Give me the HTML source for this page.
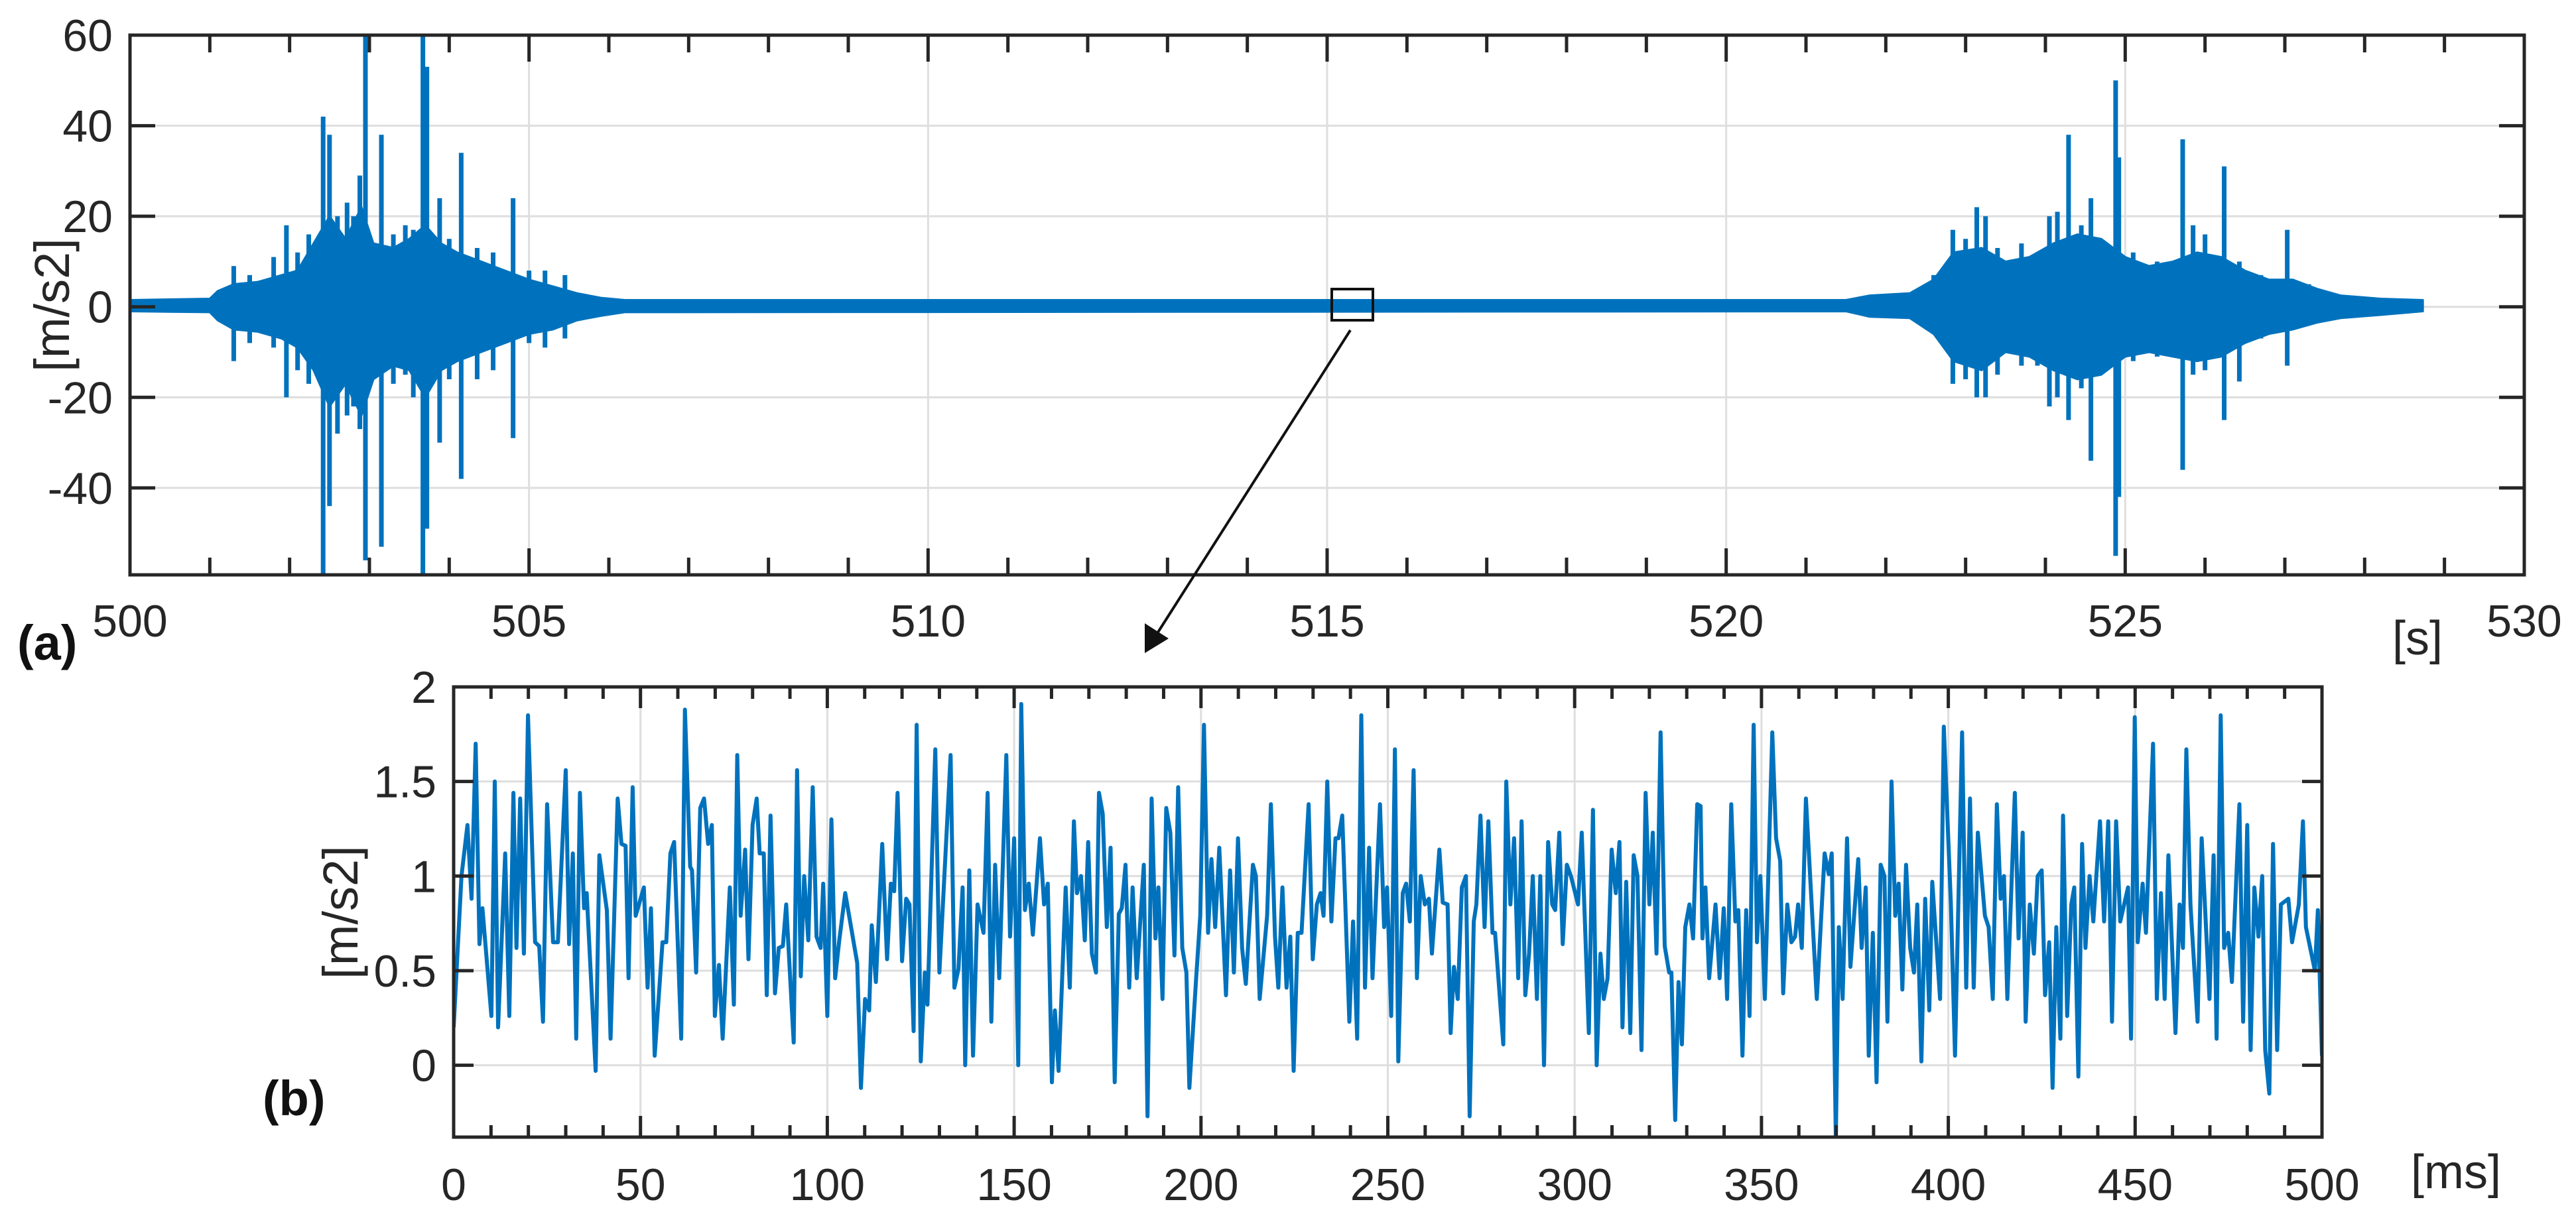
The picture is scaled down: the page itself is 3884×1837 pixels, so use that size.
<!DOCTYPE html>
<html><head><meta charset="utf-8"><style>
html,body{margin:0;padding:0;background:#fff;}
svg{display:block;font-family:"Liberation Sans",Arial,sans-serif;}
</style></head><body>
<svg id="fig" width="3884" height="1837" viewBox="0 0 3884 1837" xmlns="http://www.w3.org/2000/svg">
<rect width="3884" height="1837" fill="#fff"/>
<g id="top"></g>
<g id="bot"></g>
<rect x="2008" y="436" width="62" height="47" fill="none" stroke="#111" stroke-width="4"/>
<line x1="2036" y1="498" x2="1738" y2="966" stroke="#111" stroke-width="4"/>
<polygon points="1726,985 1726,940 1762,963" fill="#111"/>
<text x="26" y="995" font-size="74" font-weight="bold" fill="#111">(a)</text>
<text x="396" y="1682" font-size="74" font-weight="bold" fill="#111">(b)</text>
</svg>
<script>
// ---------- top chart data ----------
const topXTicks = [500, 505, 510, 515, 520, 525, 530];
const topYTicks = [-40, -20, 0, 20, 40, 60];
const envTime = [500.0,501.0,501.1,501.3,501.6,501.9,502.1,502.3,502.5,502.7,502.9,503.05,503.3,503.5,503.7,503.9,504.1,504.4,504.7,505.0,505.3,505.6,505.9,506.2,
  521.5,521.8,522.3,522.6,522.85,523.2,523.5,523.8,524.1,524.4,524.7,525.0,525.3,525.6,525.9,526.2,526.5,526.8,527.1,527.4,527.7,528.2,528.73];
const envUpper = [1.5,1.8,3.5,5,5.5,7,8,14,20,15,22,14,13,15,18,14,12,10,8,6,4.5,3,2,1.5,
  1.5,2.5,3,6,12,13,10,11,14,16,15,11,9,10,12,11,8,6,6,4,2.5,1.8,1.5];
const envLower = [-1,-1.2,-3,-5,-5.5,-7,-9,-14,-22,-17,-24,-16,-13,-14,-20,-14,-12,-10,-8,-6,-5,-3,-2,-1.2,
  -1,-2.2,-2.5,-6,-12,-14,-10,-11,-14,-16,-15,-11,-10,-11,-12,-11,-8,-6,-5,-3.5,-2.5,-1.8,-1];
const spikeTime = [501.3,501.5,501.8,501.96,502.1,502.24,502.42,502.5,502.6,502.72,502.8,502.88,502.95,503.15,503.3,503.45,503.55,503.67,503.72,503.88,504.0,504.15,504.35,504.55,504.8,505.0,505.2,505.45,
  522.6,522.84,523.0,523.14,523.25,523.4,523.7,523.9,524.05,524.15,524.29,524.45,524.57,524.88,524.92,525.1,525.4,525.72,525.85,526.0,526.24,526.43,526.7,527.03,527.3];
const spikeHigh = [9,7,11,18,12,16,42,38,20,23,20,29,60,38,16,18,17,60,53,24,15,34,13,12,24,8,8,7,
  7,17,15,22,20,13,14,12,20,21,38,18,24,50,33,12,10,37,18,16,31,10,7,17,5];
const spikeLow = [-12,-8,-9,-20,-14,-17,-62,-44,-28,-24,-22,-27,-56,-53,-17,-15,-20,-62,-49,-30,-16,-38,-16,-14,-29,-8,-9,-7,
  -6,-17,-16,-20,-20,-15,-13,-13,-22,-20,-25,-18,-34,-55,-42,-12,-11,-36,-15,-14,-25,-16.5,-7,-13,-4];

// ---------- bottom chart data ----------
const botXTicks = [0,50,100,150,200,250,300,350,400,450,500];
const botYTicks = [0,0.5,1,1.5,2];
const zoomTimeMs = [0,2.1,3.7,4.8,5.9,6.9,7.7,10.1,11.0,11.9,13.8,14.9,16.0,16.8,17.8,18.8,19.9,21.8,22.9,23.9,25.0,26.6,27.9,30.0,30.9,31.9,32.8,33.8,34.9,35.6,38.0,39.0,41.0,42.0,43.9,44.9,46.0,46.8,47.9,48.7,50.9,51.9,52.8,53.8,55.9,56.9,58.0,59.0,60.9,61.9,63.3,63.8,64.9,66.0,67.0,68.1,69.1,69.9,71.0,72.0,73.9,75.0,75.9,76.8,78.0,78.9,80.0,81.1,81.9,83.0,83.8,84.8,86.0,87.0,88.1,89.0,91.0,91.9,92.9,93.8,94.9,96.1,97.1,98.2,98.9,100.0,101.1,102.1,103.2,104.8,108.0,109.0,110.1,111.2,111.9,113.0,114.7,116.0,117.0,117.9,118.8,120.0,121.1,122.0,123.1,123.9,125.0,126.1,126.8,128.9,130.0,133.0,134.0,135.1,136.2,136.9,138.0,139.0,140.2,141.8,142.9,143.9,144.9,146.0,147.9,148.9,150.0,151.1,151.9,152.9,153.9,155.0,156.9,158.0,159.0,160.1,160.9,161.9,163.8,164.9,166.0,
166.8,167.9,168.9,169.8,170.8,171.9,172.7,173.7,174.8,175.8,176.9,178.0,178.8,179.8,180.8,181.7,182.8,184.7,185.7,186.8,187.8,188.6,189.7,190.7,191.8,192.9,193.9,195.0,196.1,196.9,198.7,199.8,200.8,201.9,202.8,203.8,204.9,206.7,207.8,208.8,209.9,211.0,212.0,213.9,214.7,215.7,217.7,218.7,219.8,220.7,221.8,222.9,223.9,224.8,225.9,226.9,228.8,229.9,231.0,232.0,232.8,233.8,234.9,236.0,236.8,237.8,239.7,240.7,241.8,242.9,243.9,245.0,245.9,247.9,249.0,249.8,250.9,251.9,252.8,254.0,254.9,255.9,256.9,257.8,258.8,259.9,261.0,261.8,263.8,264.7,266.0,266.8,267.7,268.7,269.8,270.9,271.9,273.0,273.7,274.8,275.9,276.9,278.0,278.7,280.9,281.7,282.8,283.8,284.9,285.8,286.8,287.8,288.8,289.9,290.8,291.8,292.9,294.0,294.8,295.9,296.8,297.9,299.0,300.9,301.9,303.8,304.9,305.9,306.9,307.8,308.8,309.9,311.0,312.0,312.8,313.8,314.9,315.8,316.8,317.9,319.0,320.0,320.9,321.9,323.0,324.1,325.3,325.9,326.9,327.8,328.7,329.6,330.7,331.7,332.8,
333.7,334.2,335.0,336.0,337.7,338.8,339.9,340.8,341.9,343.0,343.8,344.9,345.9,346.8,347.9,348.8,349.7,350.9,352.9,353.9,355.0,355.8,356.9,358.0,359.0,359.8,360.8,361.9,364.8,366.9,368.0,368.8,369.9,370.7,371.7,372.9,373.8,375.9,376.8,377.9,378.7,379.8,380.8,381.9,382.9,383.7,384.8,385.8,386.7,387.7,388.7,389.8,390.8,391.7,392.8,393.8,394.9,395.7,397.8,398.8,400.7,401.8,403.7,404.8,405.8,406.8,407.9,409.8,410.8,411.9,413.0,414.0,414.9,415.8,417.8,418.8,419.9,420.7,421.8,422.9,423.9,425.0,425.9,427.0,427.9,428.9,430.0,430.7,431.8,432.9,433.7,434.8,435.8,436.7,437.8,438.8,440.6,441.7,442.8,443.8,444.9,446.0,448.1,448.9,449.9,450.7,452.0,452.9,454.8,455.8,456.9,457.9,458.9,460.8,461.9,462.8,463.7,464.8,466.7,467.8,469.9,471.0,471.8,472.9,473.8,474.9,475.9,477.9,478.9,480.0,480.9,481.9,483.0,484.0,484.8,485.9,486.9,488.0,489.0,491.0,492.0,493.8,494.9,495.7,498.1,498.9,500.0];
const zoomValue = [0.2,1.0,1.27,0.88,1.7,0.64,0.83,0.26,1.5,0.2,1.12,0.26,1.44,0.62,1.41,0.59,1.85,0.65,0.63,0.23,1.38,0.65,0.65,1.56,0.64,1.12,0.14,1.44,0.83,0.91,-0.03,1.11,0.82,0.14,1.41,1.17,1.16,0.46,1.47,0.79,0.94,0.41,0.83,0.05,0.65,0.65,1.12,1.18,0.14,1.88,1.05,1.03,0.49,1.36,1.41,1.17,1.27,0.26,0.53,0.14,0.94,0.32,1.64,0.79,1.14,0.56,1.27,1.41,1.12,1.12,0.37,1.32,0.38,0.62,0.63,0.85,0.12,1.56,0.47,1.0,0.66,1.47,0.68,0.62,0.96,0.26,1.3,0.46,0.66,0.91,0.54,-0.12,0.35,0.29,0.74,0.44,1.17,0.56,0.96,0.92,1.44,0.55,0.88,0.85,0.18,1.8,0.02,0.49,0.32,1.67,0.49,1.64,0.41,0.51,0.94,0.0,1.03,0.05,0.85,0.7,1.44,0.23,1.06,0.46,1.64,0.68,1.2,0.0,1.91,0.82,0.96,0.69,1.2,0.85,0.96,-0.09,0.29,-0.03,0.94,0.41,1.29,
0.91,1.0,0.66,1.18,0.59,0.49,1.44,1.33,0.73,1.15,-0.09,0.8,0.83,1.06,0.41,0.94,0.46,1.06,-0.27,1.41,0.67,0.94,0.35,1.36,1.23,0.58,1.47,0.62,0.49,-0.12,0.46,0.79,1.8,0.7,1.09,0.73,1.15,0.37,1.03,0.49,1.2,0.62,0.43,1.06,1.0,0.35,0.79,1.38,0.68,0.41,0.94,0.41,0.68,-0.03,0.7,0.7,1.38,0.56,0.85,0.91,0.79,1.5,0.76,1.2,1.2,1.32,0.23,0.76,0.14,1.85,0.41,1.15,0.46,1.38,0.73,0.94,0.26,1.67,0.02,0.91,0.96,0.76,1.56,0.46,1.0,0.85,0.88,0.59,1.14,0.86,0.85,0.17,0.52,0.35,0.94,1.0,-0.27,0.76,0.85,1.32,0.73,1.29,0.7,0.7,0.11,1.5,0.85,1.2,0.46,1.29,0.37,0.59,1.0,0.35,1.0,0.0,1.18,0.85,0.82,1.23,0.64,1.06,1.0,0.85,1.23,0.17,1.35,0.0,0.59,0.35,0.46,1.14,0.91,1.18,0.2,0.97,0.17,1.11,1.0,0.08,1.44,0.85,1.23,0.59,1.76,0.63,0.49,0.49,-0.29,0.44,0.11,0.73,0.85,0.67,1.38,
1.37,0.67,0.94,0.46,0.85,0.46,0.83,0.35,1.38,0.76,0.82,0.05,0.82,0.26,1.8,0.65,1.0,0.35,1.76,1.2,1.08,0.38,0.85,0.65,0.68,0.85,0.62,1.41,0.35,1.12,1.01,1.12,-0.39,0.73,0.35,1.2,0.52,1.09,0.62,0.94,0.05,0.7,-0.09,1.06,1.0,0.23,1.5,0.79,0.96,0.4,1.06,0.62,0.49,0.85,0.02,0.88,0.29,0.97,0.35,1.79,0.85,0.05,1.76,0.41,1.41,0.41,1.23,0.79,0.73,0.35,1.38,0.88,1.0,0.35,1.44,0.67,1.23,0.23,0.85,0.59,1.0,1.03,0.37,0.65,-0.12,0.73,0.14,1.32,0.26,0.85,0.94,-0.06,1.17,0.62,1.0,0.76,1.29,0.76,1.29,0.23,1.29,0.76,0.94,0.14,1.84,0.65,0.96,0.7,1.7,0.35,0.91,0.35,1.11,0.17,0.85,0.62,1.67,0.85,0.23,1.2,0.35,1.11,0.14,1.85,0.62,0.7,0.44,1.38,0.23,1.27,0.08,0.94,0.68,1.0,0.08,-0.15,1.17,0.08,0.85,0.88,0.65,0.85,1.29,0.73,0.5,0.82,0.05];

const NS = 'http://www.w3.org/2000/svg';
const INK = '#262626', BLUE = '#0072BD', GRID = '#dedede';
function mk(parent, tag, attrs) {
  const el = document.createElementNS(NS, tag);
  for (const k in attrs) el.setAttribute(k, attrs[k]);
  parent.appendChild(el);
  return el;
}

// ---------- TOP ----------
(function () {
  const g = document.getElementById('top');
  const L = 196, R = 3806, T = 53, B = 867, xMin = 500, xMax = 530, yMin = -59.2, yMax = 60;
  const sx = t => L + (t - xMin) / (xMax - xMin) * (R - L);
  const sy = v => B - (v - yMin) / (yMax - yMin) * (B - T);
  topXTicks.forEach(t => {
    const gl = mk(g, 'line', {x1: sx(t), x2: sx(t), y1: T, y2: B, stroke: GRID, 'stroke-width': 3});
    
    
  });
  topYTicks.forEach(v => {
    const gl = mk(g, 'line', {x1: L, x2: R, y1: sy(v), y2: sy(v), stroke: GRID, 'stroke-width': 3});
    
    
  });
  let pts = [];
  for (let i = 0; i < envTime.length; i++) pts.push(sx(envTime[i]) + ',' + sy(envUpper[i]));
  for (let i = envTime.length - 1; i >= 0; i--) pts.push(sx(envTime[i]) + ',' + sy(envLower[i]));
  const env = mk(g, 'polygon', {points: pts.join(' '), fill: BLUE, stroke: BLUE, 'stroke-width': 3, 'stroke-linejoin': 'round'});
  
  
  const defs = mk(g, 'defs', {});
  const cp = mk(defs, 'clipPath', {id: 'topclip'});
  mk(cp, 'rect', {x: L, y: T, width: R - L, height: B - T});
  const sg = mk(g, 'g', {'clip-path': 'url(#topclip)'});
  for (let i = 0; i < spikeTime.length; i++) {
    const ln = mk(sg, 'line', {x1: sx(spikeTime[i]), x2: sx(spikeTime[i]), y1: sy(spikeHigh[i]), y2: sy(spikeLow[i]), stroke: BLUE, 'stroke-width': 7});
    
    
  }
  for (let t = xMin; t <= xMax; t++) {
    const major = topXTicks.includes(t);
    const len = major ? 40 : 26;
    mk(g, 'line', {x1: sx(t), x2: sx(t), y1: B, y2: B - len, stroke: INK, 'stroke-width': 5});
    mk(g, 'line', {x1: sx(t), x2: sx(t), y1: T, y2: T + len, stroke: INK, 'stroke-width': 5});
  }
  topYTicks.forEach(v => {
    mk(g, 'line', {x1: L, x2: L + 38, y1: sy(v), y2: sy(v), stroke: INK, 'stroke-width': 5});
    mk(g, 'line', {x1: R, x2: R - 38, y1: sy(v), y2: sy(v), stroke: INK, 'stroke-width': 5});
    const tx = mk(g, 'text', {x: 170, y: sy(v) + 24, 'text-anchor': 'end', 'font-size': 68, fill: INK});
    tx.textContent = v;
    
    
  });
  topXTicks.forEach(t => {
    const tx = mk(g, 'text', {x: sx(t), y: 960, 'text-anchor': 'middle', 'font-size': 68, fill: INK});
    tx.textContent = t;
    
    
  });
  const box = mk(g, 'rect', {x: L, y: T, width: R - L, height: B - T, fill: 'none', stroke: INK, 'stroke-width': 5});
  
  
  const yl = mk(g, 'text', {x: 0, y: 0, 'text-anchor': 'middle', 'font-size': 74, fill: INK, transform: 'translate(104,460) rotate(-90)'});
  yl.textContent = '[m/s2]';
  
  
  const xl = mk(g, 'text', {x: 3645, y: 987, 'text-anchor': 'middle', 'font-size': 72, fill: INK});
  xl.textContent = '[s]';
  
  
})();

// ---------- BOTTOM ----------
(function () {
  const g = document.getElementById('bot');
  const L = 684, R = 3501, T = 1036, B = 1715, xMin = 0, xMax = 500, yMin = -0.38, yMax = 2;
  const sx = t => L + (t - xMin) / (xMax - xMin) * (R - L);
  const sy = v => B - (v - yMin) / (yMax - yMin) * (B - T);
  botXTicks.forEach(t => {
    const gl = mk(g, 'line', {x1: sx(t), x2: sx(t), y1: T, y2: B, stroke: GRID, 'stroke-width': 3});
    
    
  });
  botYTicks.forEach(v => {
    const gl = mk(g, 'line', {x1: L, x2: R, y1: sy(v), y2: sy(v), stroke: GRID, 'stroke-width': 3});
    
    
  });
  const d = zoomTimeMs.map((t, i) => (i ? 'L' : 'M') + sx(t).toFixed(1) + ' ' + sy(zoomValue[i]).toFixed(1)).join(' ');
  const defs = mk(g, 'defs', {});
  const cp = mk(defs, 'clipPath', {id: 'botclip'});
  mk(cp, 'rect', {x: L, y: T, width: R - L, height: B - T});
  const line = mk(g, 'path', {d: d, fill: 'none', stroke: BLUE, 'stroke-width': 6, 'stroke-linejoin': 'round', 'clip-path': 'url(#botclip)'});
  
  
  for (let t = xMin; t <= xMax; t += 10) {
    const major = botXTicks.includes(t);
    const len = major ? 32 : 18;
    mk(g, 'line', {x1: sx(t), x2: sx(t), y1: B, y2: B - len, stroke: INK, 'stroke-width': 5});
    mk(g, 'line', {x1: sx(t), x2: sx(t), y1: T, y2: T + len, stroke: INK, 'stroke-width': 5});
  }
  botYTicks.forEach(v => {
    mk(g, 'line', {x1: L, x2: L + 30, y1: sy(v), y2: sy(v), stroke: INK, 'stroke-width': 5});
    mk(g, 'line', {x1: R, x2: R - 30, y1: sy(v), y2: sy(v), stroke: INK, 'stroke-width': 5});
    const tx = mk(g, 'text', {x: 658, y: sy(v) + 24, 'text-anchor': 'end', 'font-size': 68, fill: INK});
    tx.textContent = v;
    
    
  });
  botXTicks.forEach(t => {
    const tx = mk(g, 'text', {x: sx(t), y: 1810, 'text-anchor': 'middle', 'font-size': 68, fill: INK});
    tx.textContent = t;
    
    
  });
  const box = mk(g, 'rect', {x: L, y: T, width: R - L, height: B - T, fill: 'none', stroke: INK, 'stroke-width': 5});
  
  
  const yl = mk(g, 'text', {x: 0, y: 0, 'text-anchor': 'middle', 'font-size': 74, fill: INK, transform: 'translate(539,1376) rotate(-90)'});
  yl.textContent = '[m/s2]';
  
  
  const xl = mk(g, 'text', {x: 3635, y: 1792, 'font-size': 72, fill: INK});
  xl.textContent = '[ms]';
  
  
})();
</script>
</body></html>
